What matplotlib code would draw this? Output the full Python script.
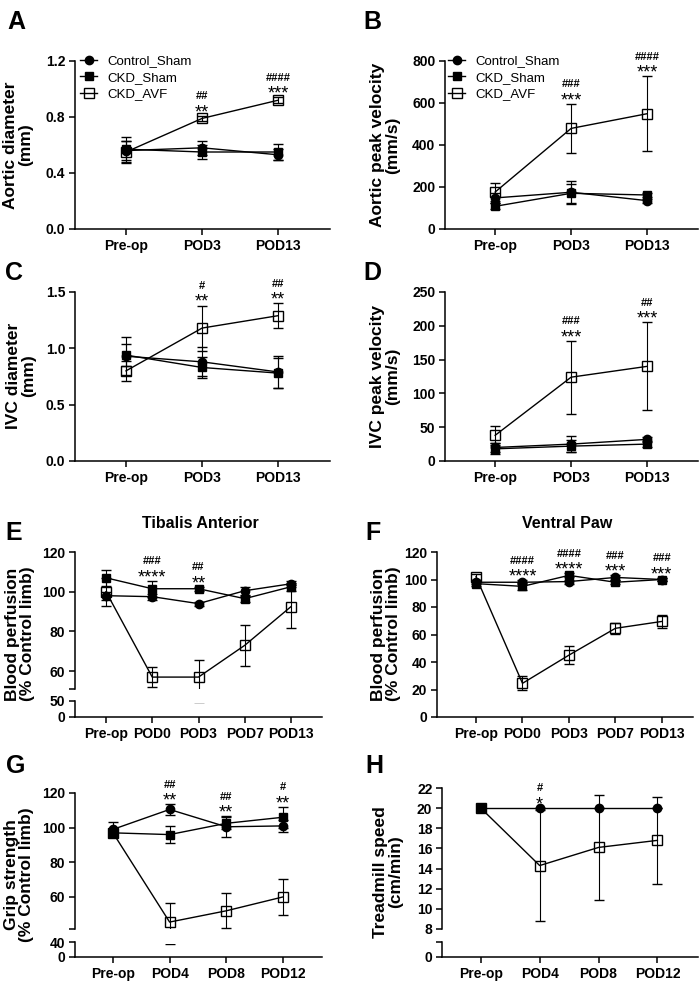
import numpy as np
import matplotlib.pyplot as plt
from matplotlib.transforms import Bbox, TransformedBbox

plt.rcParams['font.family'] = ['Liberation Sans', 'DejaVu Sans']
plt.rcParams['font.weight'] = 'bold'

W, H = 700, 994

groups = ['Control_Sham', 'CKD_Sham', 'CKD_AVF']

# A - aortic diameter (mm)
a_days = ['Pre-op', 'POD3', 'POD13']
a_ctrl = [0.56, 0.58, 0.53]
a_ctrl_sd = [0.07, 0.05, 0.04]
a_sham = [0.57, 0.55, 0.55]
a_sham_sd = [0.09, 0.05, 0.06]
a_avf = [0.55, 0.79, 0.92]
a_avf_sd = [0.08, 0.02, 0.02]
a_star = ['', '**', '***']
a_hash = ['', '##', '####']

# B - aortic peak velocity (mm/s)
b_days = ['Pre-op', 'POD3', 'POD13']
b_ctrl = [148, 175, 135]
b_ctrl_sd = [25, 55, 10]
b_sham = [108, 170, 162]
b_sham_sd = [15, 45, 10]
b_avf = [176, 479, 549]
b_avf_sd = [45, 116, 178]
b_star = ['', '***', '***']
b_hash = ['', '###', '####']

# C - IVC diameter (mm)
c_days = ['Pre-op', 'POD3', 'POD13']
c_ctrl = [0.93, 0.88, 0.79]
c_ctrl_sd = [0.17, 0.13, 0.14]
c_sham = [0.94, 0.83, 0.78]
c_sham_sd = [0.10, 0.09, 0.13]
c_avf = [0.80, 1.18, 1.29]
c_avf_sd = [0.09, 0.20, 0.11]
c_star = ['', '**', '**']
c_hash = ['', '#', '##']

# D - IVC peak velocity (mm/s)
d_days = ['Pre-op', 'POD3', 'POD13']
d_ctrl = [20, 25, 32]
d_ctrl_sd = [6, 12, 4]
d_sham = [18, 22, 25]
d_sham_sd = [8, 9, 4]
d_avf = [38, 124, 140]
d_avf_sd = [14, 54, 65]
d_star = ['', '***', '***']
d_hash = ['', '###', '##']

# E - perfusion, tibialis anterior
e_days = ['Pre-op', 'POD0', 'POD3', 'POD7', 'POD13']
e_ctrl = [98, 97.5, 94, 100.5, 104]
e_ctrl_sd = [2, 1.5, 1, 2, 1.5]
e_sham = [107, 101.5, 101.5, 96.5, 102.5]
e_sham_sd = [4, 4, 1, 1.5, 2]
e_avf = [100, 57, 57, 73, 92.5]
e_avf_sd = [7, 5, 8.8, 10.3, 11]
e_star = ['', '****', '**', '', '']
e_hash = ['', '###', '##', '', '']

# F - perfusion, ventral paw
f_days = ['Pre-op', 'POD0', 'POD3', 'POD7', 'POD13']
f_ctrl = [98, 98, 98.5, 101.5, 100]
f_ctrl_sd = [1.5, 1.5, 1.5, 1.5, 1]
f_sham = [97, 95, 103, 98, 100]
f_sham_sd = [2, 2.5, 1.5, 1.5, 1]
f_avf = [102, 24.5, 45, 64.5, 69.5]
f_avf_sd = [2, 5, 6.5, 4, 4.5]
f_star = ['', '****', '****', '***', '***']
f_hash = ['', '####', '####', '###', '###']

# G - grip strength
g_days = ['Pre-op', 'POD4', 'POD8', 'POD12']
g_ctrl = [99, 110.5, 100.5, 101]
g_ctrl_sd = [4.5, 3, 6, 3.5]
g_sham = [97, 96, 102.5, 106]
g_sham_sd = [2, 5, 3.5, 6]
g_avf = [97, 45.5, 52, 60]
g_avf_sd = [2, 11, 10, 10.3]
g_star = ['', '**', '**', '**']
g_hash = ['', '##', '##', '#']

# H - treadmill speed
h_days = ['Pre-op', 'POD4', 'POD8', 'POD12']
h_ctrl = [20, 20, 20, 20]
h_ctrl_sd = [0, 0, 0, 0]
h_sham = [20, np.nan, np.nan, np.nan]
h_sham_sd = [0, np.nan, np.nan, np.nan]
h_avf = [20, 14.3, 16.1, 16.8]
h_avf_sd = [0, 5.5, 5.2, 4.3]
h_star = ['', '*', '', '']
h_hash = ['', '#', '', '']

styles = [dict(marker='o', ms=6, mfc='black', zorder=4),
          dict(marker='s', ms=6, mfc='black', zorder=3),
          dict(marker='s', ms=6.5, mfc='none', zorder=2)]

fig = plt.figure(figsize=(7, 9.94), dpi=100)


def add_ax(l, t, r, b):
    ax = fig.add_axes([l / W, 1 - b / H, (r - l) / W, (b - t) / H])
    ax.patch.set_alpha(0)
    for s in ('top', 'right'):
        ax.spines[s].set_visible(False)
    for s in ('left', 'bottom'):
        ax.spines[s].set_linewidth(1.1)
    ax.tick_params(direction='out', length=4, width=1.1, labelsize=10, pad=3)
    return ax


def draw(ax, days, means, sds, lower=False):
    x = np.arange(len(days))
    out = []
    for m, s, st in zip(means, sds, styles):
        st = dict(st)
        if lower:
            st['marker'] = 'none'
        c = ax.errorbar(x, m, yerr=s, color='black', lw=1, elinewidth=0.8,
                        capsize=3.5, capthick=0.8, mec='black', mew=1, **st)
        if lower:
            # keep the short bottom segment clean just under the break
            h = ax.bbox.height
            clip = TransformedBbox(Bbox([[-0.1, -0.5], [1.1, 1 - 2.0 / h]]), ax.transAxes)
            for art in c.get_children():
                art.set_clip_box(clip)
        out.append(c.lines[0])
    return out


def marks(ax, means, sds, star, hashes):
    top = np.nanmax(np.array(means, float) + np.array(sds, float), axis=0)
    for i in range(len(star)):
        if star[i]:
            ax.annotate(star[i], (i, top[i]), xytext=(0, -1), textcoords='offset points',
                        ha='center', va='baseline', fontsize=13, fontweight='normal',
                        annotation_clip=False)
        if hashes[i]:
            ax.annotate(hashes[i], (i, top[i]), xytext=(0, 12), textcoords='offset points',
                        ha='center', va='baseline', fontsize=8, fontweight='bold',
                        annotation_clip=False)


def set_x(ax, days, xlim):
    ax.set_xticks(np.arange(len(days)), days)
    ax.set_xlim(xlim)


def simple(box, days, means, sds, star, hashes, ylim, yticks, ylabels, xlim):
    ax = add_ax(*box)
    lines = draw(ax, days, means, sds)
    set_x(ax, days, xlim)
    ax.set_ylim(ylim)
    ax.set_yticks(yticks, ylabels)
    marks(ax, means, sds, star, hashes)
    return ax, lines


def broken(box_top, box_bot, days, means, sds, star, hashes,
           ylim_top, ticks_top, labels_top, ylim_bot, ticks_bot, labels_bot, xlim):
    top = add_ax(*box_top)
    bot = add_ax(*box_bot)
    draw(top, days, means, sds)
    draw(bot, days, means, sds, lower=True)
    top.spines['bottom'].set_visible(False)
    top.set_xticks([])
    top.set_xlim(xlim)
    set_x(bot, days, xlim)
    top.set_ylim(ylim_top)
    top.set_yticks(ticks_top, labels_top)
    bot.set_ylim(ylim_bot)
    bot.set_yticks(ticks_bot, labels_bot)
    marks(top, means, sds, star, hashes)
    return top, bot


def legend(lines, x, y):
    fig.legend(lines, groups, loc='upper left', bbox_to_anchor=(x / W, 1 - y / H),
               frameon=False, borderpad=0, borderaxespad=0, handlelength=1.3,
               handletextpad=0.8, labelspacing=0.32, prop=dict(size=9.5, weight='normal'))


# A
axA, lines = simple((75, 61, 330, 229), a_days, [a_ctrl, a_sham, a_avf],
                    [a_ctrl_sd, a_sham_sd, a_avf_sd], a_star, a_hash,
                    (0, 1.2), [0, 0.4, 0.8, 1.2], ['0.0', '0.4', '0.8', '1.2'], (-0.67, 2.68))
legend(lines, 80, 55)

# B
axB, lines = simple((445, 61, 698, 229), b_days, [b_ctrl, b_sham, b_avf],
                    [b_ctrl_sd, b_sham_sd, b_avf_sd], b_star, b_hash,
                    (0, 800), [0, 200, 400, 600, 800], ['0', '200', '400', '600', '800'],
                    (-0.66, 2.67))
legend(lines, 448, 55)

# C
simple((75, 292, 330, 461), c_days, [c_ctrl, c_sham, c_avf],
       [c_ctrl_sd, c_sham_sd, c_avf_sd], c_star, c_hash,
       (0, 1.5), [0, 0.5, 1.0, 1.5], ['0.0', '0.5', '1.0', '1.5'], (-0.67, 2.68))

# D
simple((445, 292, 698, 461), d_days, [d_ctrl, d_sham, d_avf],
       [d_ctrl_sd, d_sham_sd, d_avf_sd], d_star, d_hash,
       (0, 250), [0, 50, 100, 150, 200, 250], ['0', '50', '100', '150', '200', '250'],
       (-0.66, 2.67))

# E
broken((75, 552, 322, 689), (75, 701, 322, 717), e_days, [e_ctrl, e_sham, e_avf],
       [e_ctrl_sd, e_sham_sd, e_avf_sd], e_star, e_hash,
       (51, 120), [51, 60, 80, 100, 120], ['', '60', '80', '100', '120'],
       (0, 50), [0, 50], ['0', '50'], (-0.67, 4.67))

# F
simple((437, 552, 693, 717), f_days, [f_ctrl, f_sham, f_avf],
       [f_ctrl_sd, f_sham_sd, f_avf_sd], f_star, f_hash,
       (0, 120), [0, 20, 40, 60, 80, 100, 120], ['0', '20', '40', '60', '80', '100', '120'],
       (-0.84, 4.67))

# G
broken((75, 793, 322, 929), (75, 942, 322, 957), g_days, [g_ctrl, g_sham, g_avf],
       [g_ctrl_sd, g_sham_sd, g_avf_sd], g_star, g_hash,
       (41.5, 120), [41.5, 60, 80, 100, 120], ['', '60', '80', '100', '120'],
       (0, 40), [0, 40], ['0', '40'], (-0.67, 3.69))

# H
broken((442, 788, 698, 929), (442, 942, 698, 957), h_days, [h_ctrl, h_sham, h_avf],
       [h_ctrl_sd, h_sham_sd, h_avf_sd], h_star, h_hash,
       (8, 22), [8, 10, 12, 14, 16, 18, 20, 22], ['8', '10', '12', '14', '16', '18', '20', '22'],
       (0, 6.5), [0, 6.5], ['0', ''], (-0.66, 3.69))

# y labels
ylabels = [(18, 145, 'Aortic diameter\n(mm)'),
           (385, 145, 'Aortic peak velocity\n(mm/s)'),
           (21, 376, 'IVC diameter\n(mm)'),
           (385, 376, 'IVC peak velocity\n(mm/s)'),
           (20, 634, 'Blood perfusion\n(% Control limb)'),
           (386, 634, 'Blood perfusion\n(% Control limb)'),
           (19, 875, 'Grip strength\n(% Control limb)'),
           (388, 872, 'Treadmill speed\n(cm/min)')]
for x, y, t in ylabels:
    fig.text(x / W, 1 - y / H, t, rotation=90, ha='center', va='center',
             fontsize=12.5, linespacing=1.05, multialignment='center')

letters = [(16, 22, 'A'), (372, 22, 'B'), (14, 273, 'C'), (372, 273, 'D'),
           (14, 533, 'E'), (373, 533, 'F'), (16, 766, 'G'), (374, 766, 'H')]
for x, y, t in letters:
    fig.text(x / W, 1 - y / H, t, ha='center', va='center', fontsize=18)

fig.text(200 / W, 1 - 523 / H, 'Tibalis Anterior', ha='center', va='center', fontsize=11.5)
fig.text(567 / W, 1 - 523 / H, 'Ventral Paw', ha='center', va='center', fontsize=11.5)

fig.savefig('out.png', dpi=100)
